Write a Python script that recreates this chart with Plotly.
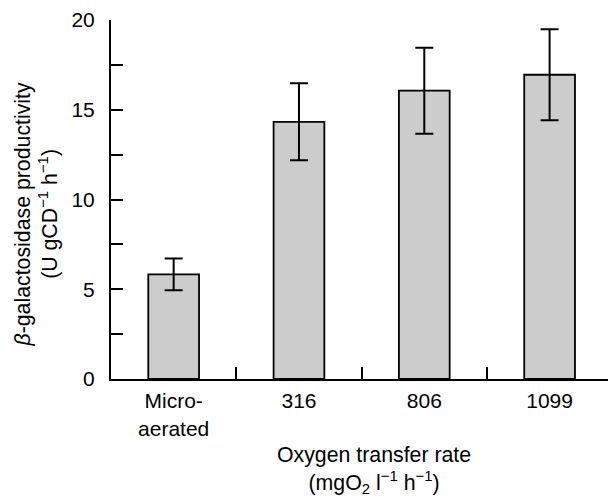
import plotly.graph_objects as go

categories = ["Micro-<br>aerated", "316", "806", "1099"]
productivity = [5.83, 14.33, 16.06, 16.95]
errors = [0.88, 2.15, 2.40, 2.53]
y_major_step = 5
y_minor_step = 2.5

FONT = "Liberation Sans, Arial, Helvetica, sans-serif"

fig = go.Figure()
fig.add_trace(go.Bar(
    x=categories,
    y=productivity,
    width=0.405,
    marker=dict(color="#cccccc", line=dict(color="black", width=1.8)),
    error_y=dict(type="data", array=errors, visible=True,
                 color="black", thickness=2, width=9),
))

fig.update_layout(
    width=608, height=497,
    margin=dict(l=111, r=0, t=20, b=118),
    paper_bgcolor="white", plot_bgcolor="white",
    showlegend=False,
    font=dict(family=FONT, size=21, color="black"),
    xaxis=dict(
        type="category",
        range=[-0.5, 3.466],
        showline=True, linecolor="black", linewidth=2,
        ticks="inside", tickson="boundaries", ticklen=12, tickwidth=2,
        tickcolor="black", showgrid=False, zeroline=False,
        tickfont=dict(size=21),
        ticklabelstandoff=2,
    ),
    yaxis=dict(
        range=[0, 20],
        tickmode="linear", tick0=0, dtick=y_major_step,
        showline=True, linecolor="black", linewidth=2,
        ticks="inside", ticklen=12, tickwidth=2, tickcolor="black",
        minor=dict(tickmode="linear", tick0=0, dtick=y_minor_step,
                   ticks="inside", ticklen=12, tickwidth=2,
                   tickcolor="black", showgrid=False),
        showgrid=False, zeroline=False,
        tickfont=dict(size=21),
        ticklabelstandoff=10,
    ),
    annotations=[
        dict(
            text="<i>β</i>-galactosidase productivity<br>(U gCD<sup>−1</sup> h<sup>−1</sup>)",
            xref="paper", yref="paper",
            x=(36.5 - 111) / 497, y=(379 - 215) / 359,
            xanchor="center", yanchor="middle",
            textangle=-90, showarrow=False,
            font=dict(family=FONT, size=21.3, color="black"),
        ),
        dict(
            text="Oxygen transfer rate<br>(mgO<sub>2</sub> l<sup>−1</sup> h<sup>−1</sup>)",
            xref="paper", yref="paper",
            x=(374 - 111) / 497, y=(379 - 441) / 359,
            xanchor="center", yanchor="top",
            showarrow=False,
            font=dict(family=FONT, size=21.3, color="black"),
        ),
    ],
)

fig.write_html("out.html")
